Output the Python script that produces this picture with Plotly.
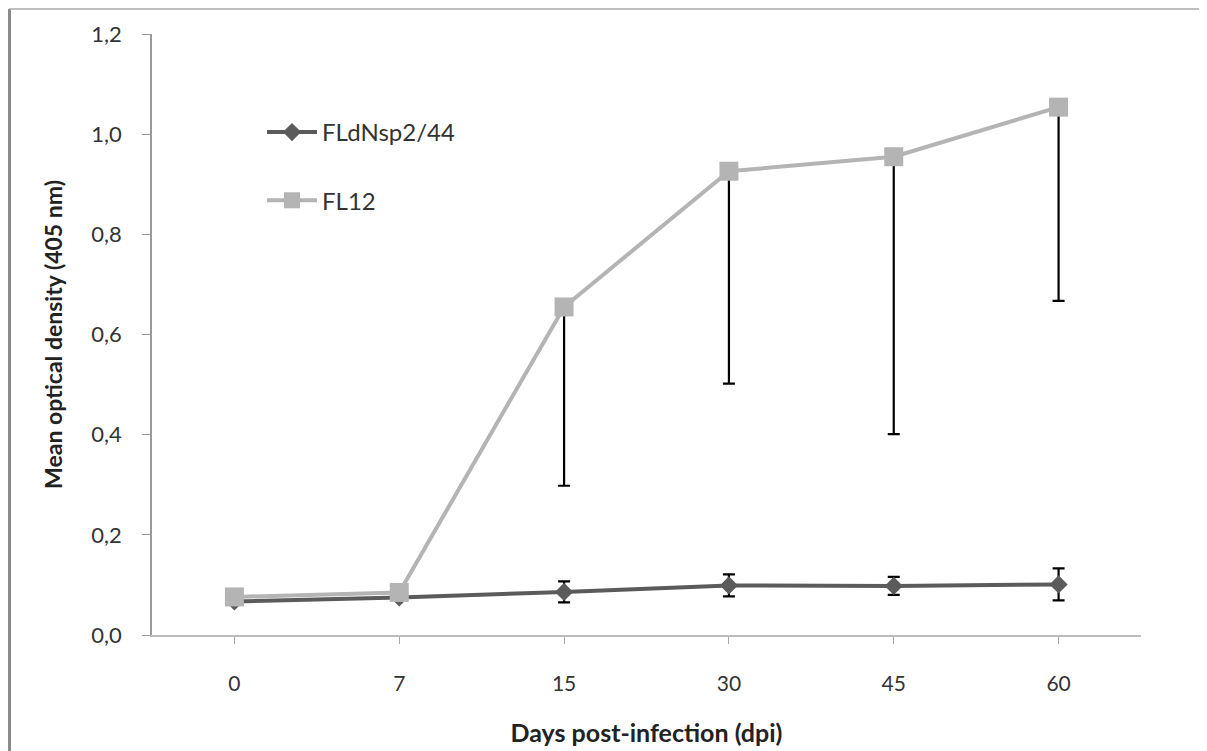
import plotly.graph_objects as go

days = ["0", "7", "15", "30", "45", "60"]
fldnsp_values = [0.067, 0.075, 0.086, 0.099, 0.098, 0.101]
fldnsp_errors = [0.0, 0.0, 0.021, 0.022, 0.018, 0.032]
fl12_values = [0.076, 0.085, 0.655, 0.926, 0.955, 1.054]
fl12_errors_minus = [0.0, 0.0, 0.357, 0.424, 0.554, 0.387]
fl12_errors_plus = [0, 0, 0, 0, 0, 0]
y_ticks = [0.0, 0.2, 0.4, 0.6, 0.8, 1.0, 1.2]

FONT = "Lato, 'Liberation Sans', sans-serif"
DARK = "#5b5b5b"
LIGHT = "#b4b4b4"

fig = go.Figure()
fig.add_trace(go.Scatter(
    x=days, y=fldnsp_values, name="FLdNsp2/44", mode="lines+markers",
    legendgroup="a",
    line=dict(color=DARK, width=4),
    marker=dict(symbol="diamond", size=14, color=DARK),
    error_y=dict(type="data", array=fldnsp_errors, color="#000000", thickness=2.2, width=6),
))
fig.add_trace(go.Scatter(
    x=days, y=fl12_values, name="FL12", mode="lines+markers",
    legendgroup="b",
    line=dict(color=LIGHT, width=4),
    marker=dict(symbol="square", size=19, color=LIGHT),
    error_y=dict(type="data", symmetric=False, array=fl12_errors_plus,
                 arrayminus=fl12_errors_minus, color="#000000", thickness=2.2, width=6),
))

# page body has an 8px margin; target screen coordinates below
OFF = 8
W, H = 1207, 751
L, R, T, B = 152 - OFF, W - 1141 + OFF, 34 - OFF, H - 635 + OFF
pw, ph = W - L - R, H - T - B


def px(x):
    return (x - OFF - L) / pw


def py(y):
    return (H - B - (y - OFF)) / ph


fig.update_layout(
    width=W, height=H,
    margin=dict(l=L, r=R, t=T, b=B, autoexpand=False),
    paper_bgcolor="white", plot_bgcolor="white",
    separators=", ",
    font=dict(family=FONT, color="#333333", size=18),
    legend=dict(x=px(262), y=py(110), xanchor="left", yanchor="top",
                bgcolor="rgba(0,0,0,0)", tracegroupgap=34, itemwidth=50,
                font=dict(family=FONT, size=24, color="#333333")),
    xaxis=dict(
        type="category", range=[-0.5, 5.5],
        showline=True, linecolor="#bcbcbc", linewidth=2,
        ticks="outside", ticklen=7, tickcolor="#aaaaaa", tickwidth=1,
        showgrid=False, zeroline=False, ticklabelstandoff=22,
        tickfont=dict(size=21, color="#333333"),
        title=dict(text="<b>Days post-infection (dpi)</b>", standoff=30,
                   font=dict(size=25, color="#222222")),
    ),
    yaxis=dict(
        range=[0, 1.2], tickvals=y_ticks, tickformat=".1f",
        showline=True, linecolor="#9a9a9a", linewidth=1.5,
        ticks="outside", ticklen=8, tickcolor="#9a9a9a", tickwidth=1,
        showgrid=False, zeroline=False, ticklabelstandoff=16,
        tickfont=dict(size=22, color="#333333"),
        title=dict(text="<b>Mean optical density (405 nm)</b>", standoff=22,
                   font=dict(size=23, color="#222222")),
    ),
    shapes=[
        dict(type="line", xref="paper", yref="paper", x0=px(9.5), x1=px(9.5), y0=py(9), y1=py(760),
             line=dict(color="#8a8a8a", width=3)),
        dict(type="line", xref="paper", yref="paper", x0=px(9), x1=px(1204), y0=py(9), y1=py(9),
             line=dict(color="#aaaaaa", width=1.5)),
        dict(type="line", xref="paper", yref="paper", x0=px(1204), x1=px(1204), y0=py(9), y1=py(760),
             line=dict(color="#c4c4c4", width=1.5)),
    ],
)

fig.write_html("out.html")
